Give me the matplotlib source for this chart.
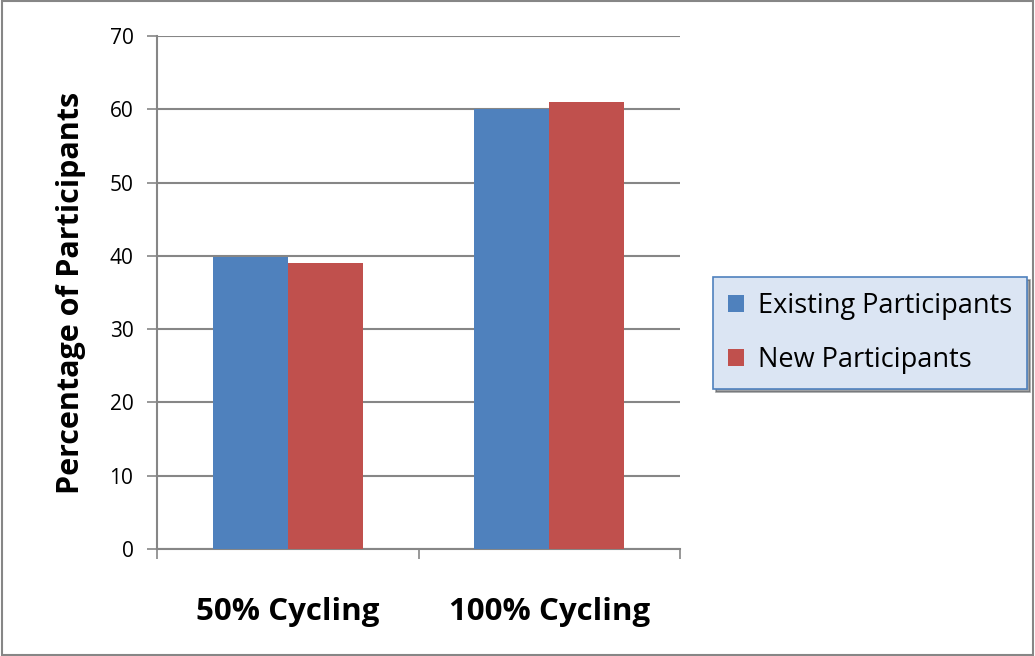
import numpy as np
import matplotlib
matplotlib.use('Agg')
import matplotlib.pyplot as plt
from matplotlib.patches import Rectangle

categories = ['50% Cycling', '100% Cycling']
existing = [39.8, 60.1]
new = [39.0, 61.0]
series_names = ['Existing Participants', 'New Participants']
yticks = [0, 10, 20, 30, 40, 50, 60, 70]

plt.rcParams['font.family'] = ['Open Sans', 'DejaVu Sans']

fig = plt.figure(figsize=(10.35, 6.56), dpi=100)
ax = fig.add_axes([0.1517, 0.1631, 0.5053, 0.782])

x = np.arange(len(categories))
w = 0.287
ax.bar(x - w/2, existing, w, color='#4f81bd', label=series_names[0], zorder=3)
ax.bar(x + w/2, new, w, color='#c0504d', label=series_names[1], zorder=3)

ax.set_xlim(-0.5, 1.5)
ax.set_ylim(0, 70)
ax.set_yticks(yticks)
ax.tick_params(axis='y', labelsize=15, length=7, width=1.2, color='#868686', direction='out', pad=10)
ax.yaxis.grid(True, color='#868686', lw=1.5, zorder=0)
ax.set_xticks([-0.5, 0.5, 1.5])
ax.set_xticklabels([])
ax.tick_params(axis='x', length=7, width=1.2, color='#868686', direction='out')
for i, c in enumerate(categories):
    ax.text(x[i], -0.122, c, transform=ax.get_xaxis_transform(), ha='center', va='center',
            fontsize=22.5, fontweight='bold')

for s in ['top', 'right']:
    ax.spines[s].set_visible(False)
for s in ['left', 'bottom']:
    ax.spines[s].set_color('#868686')
    ax.spines[s].set_linewidth(1.5)

ax.set_ylabel('Percentage of Participants', fontsize=22, fontweight='bold', labelpad=17)

leg = fig.legend(loc='center', bbox_to_anchor=(0.8406, 0.4924), fontsize=19.5,
                 frameon=True, shadow=True, fancybox=False, handlelength=0.6, handleheight=0.6,
                 handletextpad=0.5, labelspacing=0.95, borderpad=0.55, borderaxespad=0)
leg.get_frame().set_facecolor('#dbe5f3')
leg.get_frame().set_edgecolor('#4f81bd')
leg.get_frame().set_linewidth(1.2)

fig.patches.append(Rectangle((0.002, 0.002), 0.996, 0.996, transform=fig.transFigure,
                             fill=False, edgecolor='#868686', lw=1.5))

fig.savefig('out.png', dpi=100)
